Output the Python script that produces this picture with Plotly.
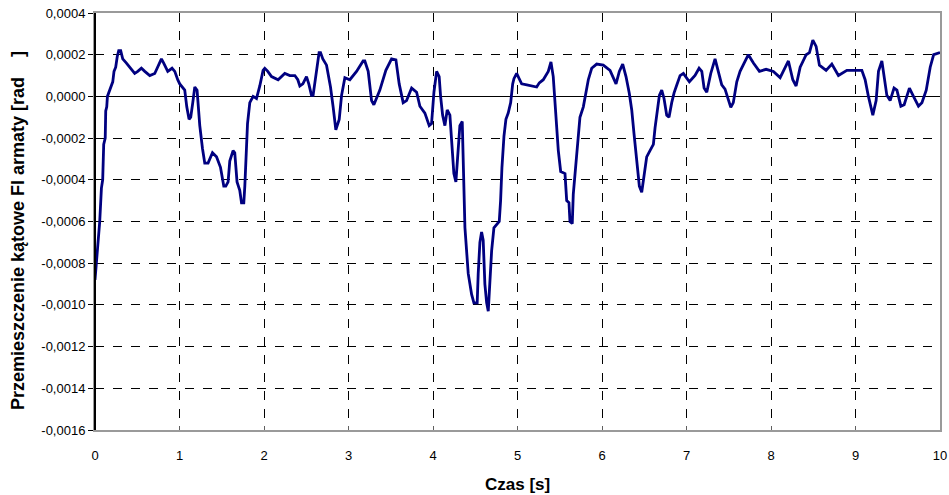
import plotly.graph_objects as go

time_s = [0.0, 0.02, 0.044, 0.056, 0.076, 0.091, 0.103, 0.121, 0.127, 0.139, 0.147, 0.174, 0.194, 0.21, 0.225, 0.245, 0.263, 0.281, 0.304, 0.328, 0.372, 0.411, 0.47, 0.506, 0.549, 0.589, 0.648, 0.707, 0.742, 0.786, 0.813, 0.861, 0.912, 0.944, 0.979,
          1.003, 1.062, 1.086, 1.113, 1.133, 1.157, 1.181, 1.208, 1.24, 1.272, 1.299, 1.338, 1.39, 1.438, 1.485, 1.524, 1.548, 1.575, 1.595, 1.634, 1.654, 1.681, 1.713, 1.734, 1.761, 1.773, 1.793, 1.805, 1.832, 1.871, 1.911, 1.95, 1.989,
          2.009, 2.045, 2.089, 2.167, 2.246, 2.306, 2.365, 2.40, 2.424, 2.46, 2.503, 2.53, 2.562, 2.581, 2.622, 2.652, 2.669, 2.696, 2.74, 2.787, 2.818, 2.85, 2.89, 2.918, 2.957,
          3.016, 3.095, 3.173, 3.193, 3.233, 3.273, 3.3, 3.371, 3.442, 3.51, 3.561, 3.6, 3.647, 3.687, 3.747, 3.806, 3.845, 3.904, 3.955, 3.983,
          4.011, 4.043, 4.073, 4.09, 4.114, 4.141, 4.168, 4.2, 4.22, 4.247, 4.271, 4.298, 4.318, 4.346, 4.358, 4.378, 4.417, 4.457, 4.484, 4.523, 4.535, 4.555, 4.575, 4.594, 4.614, 4.635, 4.654, 4.674, 4.694, 4.721, 4.784, 4.8, 4.816, 4.84, 4.863, 4.89, 4.919, 4.943, 4.958, 4.99,
          5.049, 5.11, 5.186, 5.227, 5.258, 5.305, 5.364, 5.396, 5.423, 5.443, 5.463, 5.483, 5.511, 5.562, 5.582, 5.609, 5.621, 5.648, 5.66, 5.692, 5.719, 5.739, 5.779, 5.811, 5.838, 5.878, 5.937,
          6.015, 6.095, 6.166, 6.205, 6.245, 6.284, 6.323, 6.352, 6.379, 6.411, 6.442, 6.47, 6.497, 6.529, 6.568, 6.608, 6.628, 6.648, 6.679, 6.707, 6.734, 6.766, 6.793, 6.825, 6.853, 6.885, 6.924, 6.963,
          7.034, 7.101, 7.149, 7.181, 7.208, 7.24, 7.287, 7.338, 7.377, 7.417, 7.456, 7.524, 7.554, 7.595, 7.634, 7.681, 7.732, 7.792, 7.863, 7.942,
          8.028, 8.108, 8.206, 8.258, 8.297, 8.345, 8.416, 8.455, 8.495, 8.534, 8.573, 8.652, 8.72, 8.798, 8.898,
          9.075, 9.114, 9.153, 9.205, 9.244, 9.272, 9.312, 9.339, 9.371, 9.41, 9.456, 9.49, 9.537, 9.576, 9.638, 9.686, 9.745, 9.786, 9.837, 9.884, 9.925, 10.0]

fi_rad = [-0.00088, -0.00078, -0.00064, -0.00060, -0.00044, -0.00040, -0.00023, -0.00020, -0.00007, -0.00005, 0.0, 0.00003, 0.00005, 0.00007, 0.00012, 0.00014, 0.00019, 0.00022, 0.00022, 0.00018, 0.00016, 0.00014, 0.00011, 0.00012, 0.000135, 0.00012, 0.0001, 0.00011, 0.00014, 0.00018, 0.00016, 0.00012, 0.000135, 0.00012, 0.00008,
          0.00006, 0.00003, -0.00005, -0.00011, -0.0001, -0.00003, 0.000045, 0.00003, -0.00014, -0.00025, -0.00032, -0.00032, -0.00027, -0.00029, -0.00034, -0.00043, -0.00043, -0.00041, -0.00031, -0.00026, -0.00027, -0.00041, -0.00045, -0.00051, -0.00051, -0.00043, -0.00027, -0.00013, -0.00003, 0.0, -0.00001, 0.00005, 0.000125,
          0.000135, 0.00012, 0.000095, 0.00008, 0.00011, 0.0001, 0.0001, 0.00008, 0.00005, 0.00006, 0.000095, 0.00006, 0.000005, 0.000005, 0.00014, 0.00021, 0.00021, 0.00018, 0.00015, 0.000045, -0.00005, -0.00016, -0.00011, 0.000005, 0.00009,
          0.00008, 0.00012, 0.00017, 0.00017, 0.00012, -0.00002, -0.00004, 0.00003, 0.000125, 0.00018, 0.000175, 0.00006, -0.00003, -0.00002, 0.00004, 0.00002, -0.000047, -0.00008, -0.00014, -0.00013,
          0.00002, 0.00012, 0.000095, 0.0, -0.00009, -0.00014, -0.000065, -0.00009, -0.00023, -0.00037, -0.00041, -0.00026, -0.00014, -0.00012, -0.00034, -0.00063, -0.00085, -0.00095, -0.00099, -0.00099, -0.00085, -0.0007, -0.00065, -0.00069, -0.0009, -0.00099, -0.00103, -0.0009, -0.00074, -0.00063, -0.0006, -0.0005, -0.00034, -0.00019, -0.00011, -0.00008, -0.00003, 0.00006, 0.000085, 0.00011,
          0.00006, 0.000055, 0.00005, 0.000045, 0.000065, 0.00008, 0.00012, 0.000165, 0.000095, -0.00002, -0.0001, -0.00026, -0.00036, -0.00037, -0.0005, -0.00051, -0.0006, -0.00061, -0.00047, -0.00031, -0.00018, -0.0001, -0.00005, 0.00002, 0.00008, 0.000135, 0.000155,
          0.00015, 0.000125, 0.00006, 0.00012, 0.000155, 0.000095, 0.000015, -0.000065, -0.00018, -0.00031, -0.00043, -0.00046, -0.00039, -0.00029, -0.00026, -0.00023, -0.00015, -0.00008, 0.000005, 0.00003, -0.00001, -0.00009, -0.0001, -0.00003, 0.000017, 0.000055, 0.0001, 0.00011,
          0.00007, 0.0001, 0.000135, 0.00012, 0.00004, 0.00002, 0.00011, 0.00018, 0.00012, 0.000055, 0.000035, -0.000053, -0.00003, 0.00007, 0.00012, 0.00016, 0.0002, 0.00016, 0.00012, 0.00013,
          0.00012, 0.00009, 0.00017, 0.00008, 0.00005, 0.00014, 0.0002, 0.00021, 0.00027, 0.00024, 0.00015, 0.000125, 0.000155, 0.0001, 0.000125,
          0.000125, 0.00008, 0.0, -0.00009, -0.00002, 0.00012, 0.00017, 0.0001, 0.000005, -0.00002, 0.00004, 0.00003, -0.000047, -0.00004, 0.00004, 0.0, -0.000047, -0.00003, 0.00003, 0.00014, 0.0002, 0.00021]

y_tick_vals = [0.0004, 0.0002, 0.0, -0.0002, -0.0004, -0.0006, -0.0008, -0.0010, -0.0012, -0.0014, -0.0016]
y_tick_text = ["0,0004", "0,0002", "0,0000", "-0,0002", "-0,0004", "-0,0006", "-0,0008", "-0,0010", "-0,0012", "-0,0014", "-0,0016"]
x_tick_vals = list(range(0, 11))
x_tick_text = [str(v) for v in x_tick_vals]

x_title = "Czas [s]"
y_title = "Przemieszczenie kątowe FI armaty [rad    ]"

fig = go.Figure()
fig.add_trace(go.Scatter(x=time_s, y=fi_rad, mode="lines",
                         line=dict(color="#000080", width=2.8), showlegend=False))

fam = "Liberation Sans, Arial, sans-serif"

fig.update_layout(
    width=949, height=495,
    margin=dict(l=95, r=9, t=13, b=65),
    paper_bgcolor="white", plot_bgcolor="white",
    font=dict(family=fam, size=13, color="black"),
    xaxis=dict(range=[0, 10], tickvals=x_tick_vals, ticktext=x_tick_text,
               showgrid=True, gridcolor="black", griddash="dash", gridwidth=1,
               showline=True, linecolor="#9a9a9a", linewidth=2, mirror=True,
               ticks="inside", ticklen=4, tickcolor="#606060",
               ticklabelstandoff=12,
               zeroline=False, tickfont=dict(size=13), automargin=False),
    yaxis=dict(range=[-0.0016, 0.0004], tickvals=y_tick_vals, ticktext=y_tick_text,
               showgrid=True, gridcolor="black", griddash="dash", gridwidth=1,
               showline=True, linecolor="#9a9a9a", linewidth=2, mirror=True,
               zeroline=True, zerolinecolor="black", zerolinewidth=1,
               ticks="outside", ticklen=5, tickcolor="black",
               tickfont=dict(size=13), automargin=False),
    annotations=[
        dict(text="<b>" + x_title + "</b>", xref="paper", yref="paper",
             x=0.5, y=-0.0, yshift=-54, xanchor="center", yanchor="middle",
             showarrow=False, font=dict(size=17, family=fam)),
        dict(text="<b>" + y_title + "</b>", xref="paper", yref="paper",
             x=0.0, y=0.477, xshift=-77, xanchor="center", yanchor="middle",
             textangle=-90, showarrow=False, font=dict(size=18, family=fam)),
    ],
)

# left axis line in black, other box edges gray
fig.add_shape(type="line", xref="paper", yref="paper", x0=0, x1=0, y0=0, y1=1,
              line=dict(color="black", width=2))

fig.write_html("out.html", config={"displayModeBar": False},
               post_script="document.body.style.margin='0px';")
